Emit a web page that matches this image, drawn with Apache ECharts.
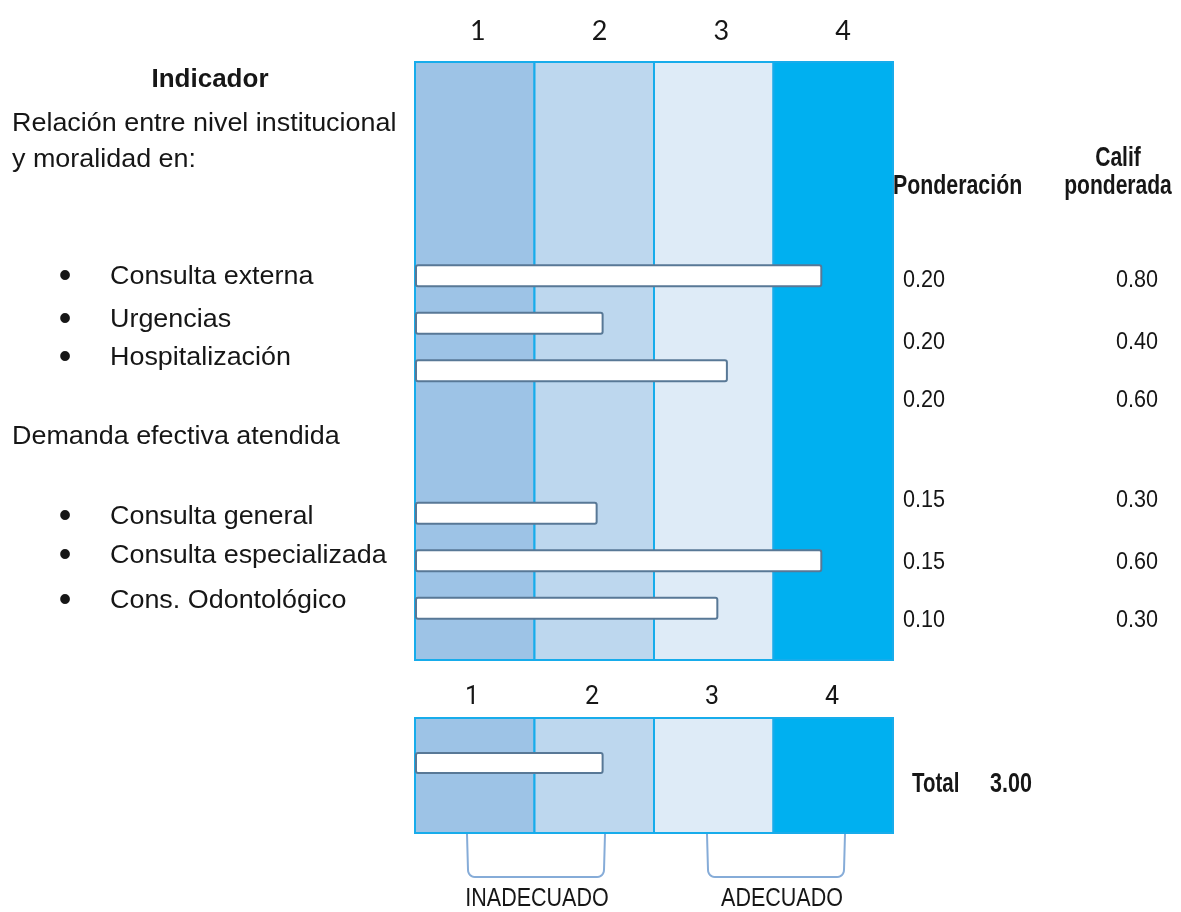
<!DOCTYPE html>
<html>
<head>
<meta charset="utf-8">
<script src="https://cdn.jsdelivr.net/npm/echarts@6/dist/echarts.min.js"></script>
<style>
  html, body { margin: 0; padding: 0; background: #ffffff; }
  #chart { width: 1181px; height: 912px; }
</style>
</head>
<body>
<div id="chart"></div>
<script>
// ---------------- DATA ----------------
const indicadores = ['Consulta externa', 'Urgencias', 'Hospitalización',
                     'Consulta general', 'Consulta especializada', 'Cons. Odontológico'];
const calificacion = [3.9, 2.07, 3.11, 2.02, 3.9, 3.03];   // bar lengths on the 1–4 scale
const ponderacion = ['0.20', '0.20', '0.20', '0.15', '0.15', '0.10'];
const califPonderada = ['0.80', '0.40', '0.60', '0.30', '0.60', '0.30'];
const escala = ['1', '2', '3', '4'];
const totalCalif = 2.07;
const totalTexto = '3.00';
const encabezado = 'Indicador';
const grupo1 = ['Relación entre nivel institucional', 'y moralidad en:'];
const grupo2 = 'Demanda efectiva atendida';
const colPonderacion = 'Ponderación';
const colCalif = ['Calif', 'ponderada'];
const totalEtiqueta = 'Total';
const zonas = ['INADECUADO', 'ADECUADO'];

// ---------------- LAYOUT / STYLE ----------------
const XMIN = 0.5, XMAX = 4.5;
const ROW_SLOT = [0, 1, 2, 5, 6, 7];
const N_SLOTS = 8;
const LABEL_Y = [277, 320, 358, 517, 556, 601];
const COL_Y = [280, 342, 400, 500, 562, 620];
const BAND_COLORS = ['#9dc3e6', '#bdd7ee', '#deebf7', '#00b0f0'];
const BAND_STROKE = '#17aceb';
const BAR_STROKE = '#587896';
const TXT = '#161616';
const SANS = '"Liberation Sans", Arial, sans-serif';

const slotNames = Array.from({ length: N_SLOTS }, (_, k) => {
  const i = ROW_SLOT.indexOf(k);
  return i >= 0 ? indicadores[i] : 'sep' + k;
});

function renderBand(params, api) {
  const v = api.value(0);
  const cs = params.coordSys;
  const x0 = api.coord([v - 0.5, 0])[0];
  const x1 = api.coord([v + 0.5, 0])[0];
  return {
    type: 'rect',
    shape: { x: x0, y: cs.y, width: x1 - x0, height: cs.height },
    style: { fill: BAND_COLORS[params.dataIndex], stroke: BAND_STROKE, lineWidth: 2 }
  };
}
function makeBarRenderer(h) {
  return function (params, api) {
    const v = api.value(0), c = api.value(1);
    const s = api.coord([XMIN, c]);
    const e = api.coord([v, c]);
    return {
      type: 'rect',
      shape: { x: s[0] + 1, y: s[1] - h / 2, width: e[0] - s[0] - 1, height: h, r: 2 },
      style: { fill: '#ffffff', stroke: BAR_STROKE, lineWidth: 2 }
    };
  };
}

const hiddenVal = (gi) => ({ type: 'value', gridIndex: gi, show: false, min: XMIN, max: XMAX });

const grids = [
  { left: 415, top: 62, width: 478, height: 598 },   // 0 main bands
  { left: 415, top: 252, width: 478, height: 380 },  // 1 main bars
  { left: 417, top: 62, width: 487, height: 10 },    // 2 top scale labels
  { left: 415, top: 718, width: 478, height: 115 },  // 3 bottom bands
  { left: 415, top: 753, width: 478, height: 20 },   // 4 bottom bar
  { left: 412, top: 718, width: 480, height: 10 }    // 5 bottom scale labels
].map(g => Object.assign({ outerBoundsMode: 'none', containLabel: false }, g));

const scaleAxis = (gi, font, size, margin) => ({
  type: 'category', gridIndex: gi, position: 'top', data: escala,
  axisLine: { show: false }, axisTick: { show: false }, splitLine: { show: false },
  axisLabel: { color: TXT, fontFamily: font, fontSize: size, margin: margin, interval: 0 }
});

// ---------------- GRAPHIC TEXTS ----------------
function txt(text, x, y, opt) {
  opt = opt || {};
  return {
    type: 'text', x: x, y: y, scaleX: opt.sx || 1, silent: true,
    style: {
      text: text, fill: TXT, fontFamily: opt.font || SANS, fontSize: opt.size || 26,
      fontWeight: opt.bold ? 'bold' : 'normal',
      align: opt.align || 'left', verticalAlign: 'middle'
    }
  };
}
const graphics = [];
graphics.push(txt(encabezado, 210, 80, { bold: true, align: 'center' }));
graphics.push(txt(grupo1[0], 12, 124, { sx: 1.035 }));
graphics.push(txt(grupo1[1], 12, 160, { sx: 1.035 }));
graphics.push(txt(grupo2, 12, 437, { sx: 1.035 }));
indicadores.forEach((name, i) => {
  graphics.push(txt('•', 65, LABEL_Y[i], { align: 'center', size: 36 }));
  graphics.push(txt(name, 110, LABEL_Y[i], { sx: 1.035 }));
});
graphics.push(txt(colPonderacion, 893, 187, { bold: true, size: 27, sx: 0.79 }));
graphics.push(txt(colCalif[0], 1118, 159, { bold: true, size: 27, sx: 0.78, align: 'center' }));
graphics.push(txt(colCalif[1], 1118, 187, { bold: true, size: 27, sx: 0.78, align: 'center' }));
ponderacion.forEach((p, i) => graphics.push(txt(p, 903, COL_Y[i], { size: 24, sx: 0.9 })));
califPonderada.forEach((p, i) => graphics.push(txt(p, 1158, COL_Y[i], { size: 24, sx: 0.9, align: 'right' })));
graphics.push(txt(totalEtiqueta, 912, 784, { bold: true, size: 28, sx: 0.73 }));
graphics.push(txt(totalTexto, 990, 784, { bold: true, size: 28, sx: 0.77 }));
graphics.push(txt(zonas[0], 537, 899, { size: 25, sx: 0.86, align: 'center' }));
graphics.push(txt(zonas[1], 782, 899, { size: 25, sx: 0.86, align: 'center' }));

// bracket under the bottom panel (decorative connector)
function brace(x0, x1) {
  const yTop = 834, yBot = 877, r = 7;
  const pts = [[x0, yTop]];
  for (let k = 0; k <= 6; k++) {
    const a = Math.PI - (Math.PI / 2) * (k / 6);
    pts.push([x0 + 1 + r + r * Math.cos(a), yBot - r + r * Math.sin(a)]);
  }
  for (let k = 0; k <= 6; k++) {
    const a = (Math.PI / 2) * (1 - k / 6);
    pts.push([x1 - 1 - r + r * Math.cos(a), yBot - r + r * Math.sin(a)]);
  }
  pts.push([x1, yTop]);
  return {
    type: 'polyline', silent: true,
    shape: { points: pts },
    style: { fill: null, stroke: '#86acd8', lineWidth: 2 }
  };
}
graphics.push(brace(467, 605));
graphics.push(brace(707, 845));

// ---------------- OPTION ----------------
const option = {
  backgroundColor: '#ffffff',
  animation: false,
  grid: grids,
  xAxis: [
    hiddenVal(0), hiddenVal(1),
    scaleAxis(2, 'Lato, "Open Sans", sans-serif', 27, 17),
    hiddenVal(3), hiddenVal(4),
    scaleAxis(5, 'Roboto, sans-serif', 25, 8)
  ],
  yAxis: [
    { type: 'value', gridIndex: 0, show: false, min: 0, max: 1 },
    { type: 'category', gridIndex: 1, show: false, inverse: true, data: slotNames },
    { type: 'value', gridIndex: 2, show: false, min: 0, max: 1 },
    { type: 'value', gridIndex: 3, show: false, min: 0, max: 1 },
    { type: 'category', gridIndex: 4, show: false, data: [totalEtiqueta] },
    { type: 'value', gridIndex: 5, show: false, min: 0, max: 1 }
  ],
  series: [
    { type: 'custom', name: 'bandas', xAxisIndex: 0, yAxisIndex: 0, z: 1, silent: true,
      renderItem: renderBand, encode: { x: 0 }, data: escala.map(s => [Number(s), 0.5]) },
    { type: 'custom', name: 'calificación', xAxisIndex: 1, yAxisIndex: 1, z: 5, silent: true,
      renderItem: makeBarRenderer(21), encode: { x: 0, y: 1 },
      data: indicadores.map((n, i) => [calificacion[i], ROW_SLOT[i]]) },
    { type: 'custom', name: 'bandasTotal', xAxisIndex: 3, yAxisIndex: 3, z: 1, silent: true,
      renderItem: renderBand, encode: { x: 0 }, data: escala.map(s => [Number(s), 0.5]) },
    { type: 'custom', name: 'total', xAxisIndex: 4, yAxisIndex: 4, z: 5, silent: true,
      renderItem: makeBarRenderer(20), encode: { x: 0, y: 1 },
      data: [[totalCalif, 0]] }
  ],
  graphic: graphics
};

const chart = echarts.init(document.getElementById('chart'), null, { renderer: 'canvas' });
chart.setOption(option);
</script>
</body>
</html>
